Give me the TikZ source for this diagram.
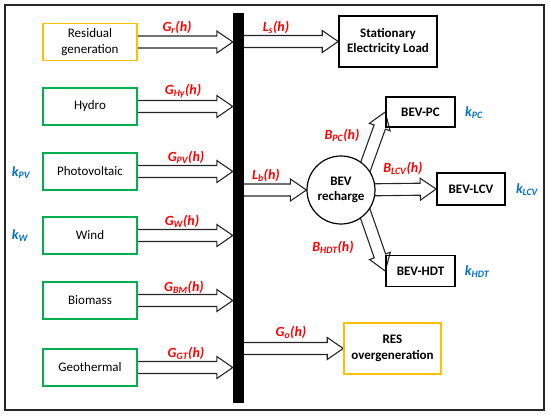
\documentclass[tikz,border=0pt]{standalone}
\usepackage{fontspec}
\setmainfont{Carlito}
\usetikzlibrary{calc,positioning}

\definecolor{srcgreen}{HTML}{00B050}
\definecolor{srcyellow}{HTML}{FFC000}
\definecolor{kblue}{HTML}{0070C0}

\pgfdeclarelayer{bg}
\pgfsetlayers{bg,main}

% hollow block arrow from #1 to #2
\newcommand{\fatarrow}[2]{%
  \coordinate (fa) at (#1);
  \coordinate (fb) at (#2);
  \coordinate (fc) at ($(fb)!16pt!(fa)$);
  \draw[flowline] ($(fa)!6pt!90:(fb)$) -- ($(fc)!6pt!-90:(fa)$)
    -- ($(fc)!11pt!-90:(fa)$) -- (fb) -- ($(fc)!11pt!90:(fa)$)
    -- ($(fc)!6pt!90:(fa)$) -- ($(fa)!6pt!-90:(fb)$);
}

\begin{document}
\begin{tikzpicture}[x=1pt, y=-1pt,
  boxfont/.style={font=\fontsize{13}{15.5}\selectfont},
  srcbox/.style={boxfont, draw=srcgreen, line width=1.6pt, minimum width=94pt, minimum height=37pt, align=center, inner sep=1pt},
  resbox/.style={srcbox, draw=srcyellow},
  loadbox/.style={boxfont, draw=black, line width=1.6pt, align=center, inner sep=1pt, font=\fontsize{13}{15.5}\selectfont\bfseries},
  flowline/.style={line width=1.1pt, line join=miter, black!85},
  flowlab/.style={text=red, font=\fontsize{14}{16}\selectfont\bfseries\itshape},
  klab/.style={text=kblue, font=\fontsize{14}{16}\selectfont\bfseries\itshape}]

\useasboundingbox (0,0) rectangle (550,416);
\draw[line width=1.2pt, black!85] (5,5) rectangle (544,410);

% bus bar
\node[fill=black, minimum width=11pt, minimum height=390pt, inner sep=0pt] (bus) at (238.5,208) {};

% sources
\node[resbox] (res) at (90,42) {Residual\\generation};
\node[srcbox] (hyd) at (90,106.5) {Hydro};
\node[srcbox] (pv) at (90,171.5) {Photovoltaic};
\node[srcbox] (wind) at (90,235.5) {Wind};
\node[srcbox] (bio) at (90,300.5) {Biomass};
\node[srcbox] (geo) at (90,367.5) {Geothermal};

% loads
\node[loadbox, minimum width=98pt, minimum height=51pt] (load) at (388,41.5) {Stationary\\Electricity Load};
\node[loadbox, circle, line width=1.2pt, minimum size=68pt, inner sep=0pt, fill=white] (rech) at (341,190) {BEV\\recharge};
\node[loadbox, minimum width=69pt, minimum height=30pt] (pc) at (420.5,112) {BEV-PC};
\node[loadbox, minimum width=68pt, minimum height=32pt] (lcv) at (471,189) {BEV-LCV};
\node[loadbox, minimum width=69pt, minimum height=31pt] (hdt) at (420.5,271) {BEV-HDT};
\node[loadbox, draw=srcyellow, minimum width=97pt, minimum height=51pt] (ovg) at (392.5,348.5) {RES\\overgeneration};
\coordinate (bevout) at ($(rech.center)+(16,0)$);

% flows
\begin{pgfonlayer}{bg}
\fatarrow{res.east}{res.east -| bus.west}
\fatarrow{hyd.east}{hyd.east -| bus.west}
\fatarrow{pv.east}{pv.east -| bus.west}
\fatarrow{wind.east}{wind.east -| bus.west}
\fatarrow{bio.east}{bio.east -| bus.west}
\fatarrow{geo.east}{geo.east -| bus.west}
\fatarrow{bus.east |- load.west}{load.west}
\fatarrow{bus.east |- rech.west}{rech.west}
\fatarrow{bus.east |- ovg.west}{ovg.west}
\fatarrow{bevout}{pc.west}
\fatarrow{bevout}{lcv.west}
\fatarrow{bevout}{hdt.west}
\end{pgfonlayer}

% flow labels
\node[flowlab] (lgr) at (177,27) {G\textsubscript{r}(h)};
\node[flowlab] (lghy) at (183,91) {G\textsubscript{Hy}(h)};
\node[flowlab] (lgpv) at (186,157) {G\textsubscript{PV}(h)};
\node[flowlab] (lgw) at (182,221) {G\textsubscript{W}(h)};
\node[flowlab] (lgbm) at (184,287) {G\textsubscript{BM}(h)};
\node[flowlab] (lggt) at (186,353) {G\textsubscript{GT}(h)};
\node[flowlab] (lls) at (276,27) {L\textsubscript{s}(h)};
\node[flowlab] (llb) at (266,175) {L\textsubscript{b}(h)};
\node[flowlab] (lgo) at (291,332) {G\textsubscript{o}(h)};
\node[flowlab] (lbpc) at (342,135) {B\textsubscript{PC}(h)};
\node[flowlab] (lblcv) at (403,168) {B\textsubscript{LCV}(h)};
\node[flowlab] (lbhdt) at (333,247) {B\textsubscript{HDT}(h)};

% capacities
\node[klab] (kpv) at (21,173) {k\textsubscript{PV}};
\node[klab] (kw) at (20,236) {k\textsubscript{W}};
\node[klab] (kpc) at (474,113) {k\textsubscript{PC}};
\node[klab] (klcv) at (527,190) {k\textsubscript{LCV}};
\node[klab] (khdt) at (477,272) {k\textsubscript{HDT}};

\end{tikzpicture}
\end{document}
